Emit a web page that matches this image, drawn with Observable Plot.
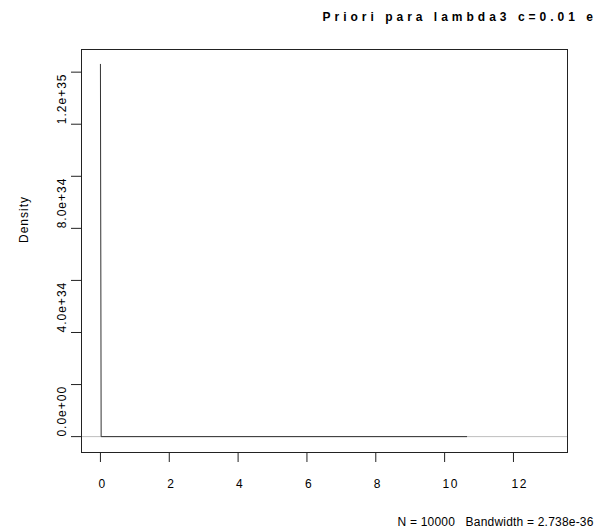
<!DOCTYPE html>
<html><head><meta charset="utf-8">
<script src="https://cdn.jsdelivr.net/npm/d3@7"></script>
<script src="https://cdn.jsdelivr.net/npm/@observablehq/plot@0.6"></script>
<style>
body{margin:0;background:#fff;}
svg text{white-space:pre;}
</style></head><body><div id="chart"></div>
<script>
const densX = [0.0, 0.021, 10.64];
const densY = [1.43e35, 0, 0];
const xTicks = [0, 2, 4, 6, 8, 10, 12];
const yTicks = [0, 2e34, 4e34, 6e34, 8e34, 1e35, 1.2e35, 1.4e35];
const yLabelTicks = [0, 4e34, 8e34, 1.2e35];
const yLabels = ["0.0e+00", "4.0e+34", "8.0e+34", "1.2e+35"];
const title = "Priori para lambda3 c=0.01 e";
const xCaption = "N = 10000   Bandwidth = 2.738e-36";
const yTitle = "Density";

const data = densX.map((x, i) => ({x, y: densY[i]}));

const plot = Plot.plot({
  width: 603, height: 532,
  marginLeft: 81, marginRight: 36, marginTop: 49, marginBottom: 80,
  x: {domain: [-0.55, 13.57]},
  y: {domain: [-6.1e33, 1.487e35]},
  style: {fontFamily: "'Liberation Sans', Arial, Helvetica, sans-serif", fontSize: "12px", color: "#000", background: "#fff"},
  marks: [
    Plot.ruleY([0], {stroke: "#bebebe", strokeWidth: 1}),
    Plot.line(data, {x: "x", y: "y", stroke: "#333", strokeWidth: 1}),
    Plot.frame({stroke: "#222"}),
    Plot.axisX({ticks: xTicks, tickSize: 10, tickFormat: () => "", label: null, stroke: "#222"}),
    Plot.axisY({ticks: yTicks, tickSize: 10, tickFormat: () => "", label: null, stroke: "#222"}),
    Plot.text(xTicks, {x: d => d, text: d => String(d), frameAnchor: "bottom", dy: 35, dx: -2, textAnchor: "start", fill: "#000"}),
    Plot.text(yLabels, {y: (d, i) => yLabelTicks[i], text: d => d, frameAnchor: "left", dx: -16, rotate: -90, textAnchor: "start", lineAnchor: "bottom", fill: "#000"}),
    Plot.text([yTitle], {frameAnchor: "left", dx: -54, dy: -8, rotate: -90, textAnchor: "start", lineAnchor: "bottom", fill: "#000"}),
    Plot.text([title], {frameAnchor: "top", dx: -2, dy: -28.5, textAnchor: "start", lineAnchor: "bottom", fontWeight: "bold", fill: "#000"}),
    Plot.text([xCaption], {frameAnchor: "bottom", dx: 73, dy: 73, textAnchor: "start", lineAnchor: "bottom", fill: "#000"})
  ]
});
document.getElementById("chart").appendChild(plot);
const spacing = new Map([[title, "4px"], [xCaption, "0.2px"], [yTitle, "1px"]]);
xTicks.forEach(t => spacing.set(String(t), "1.5px"));
yLabels.forEach(t => spacing.set(t, "1px"));
d3.select(plot).selectAll("text").each(function() {
  const sp = spacing.get(this.textContent);
  if (sp) this.setAttribute("letter-spacing", sp);
});
</script></body></html>
